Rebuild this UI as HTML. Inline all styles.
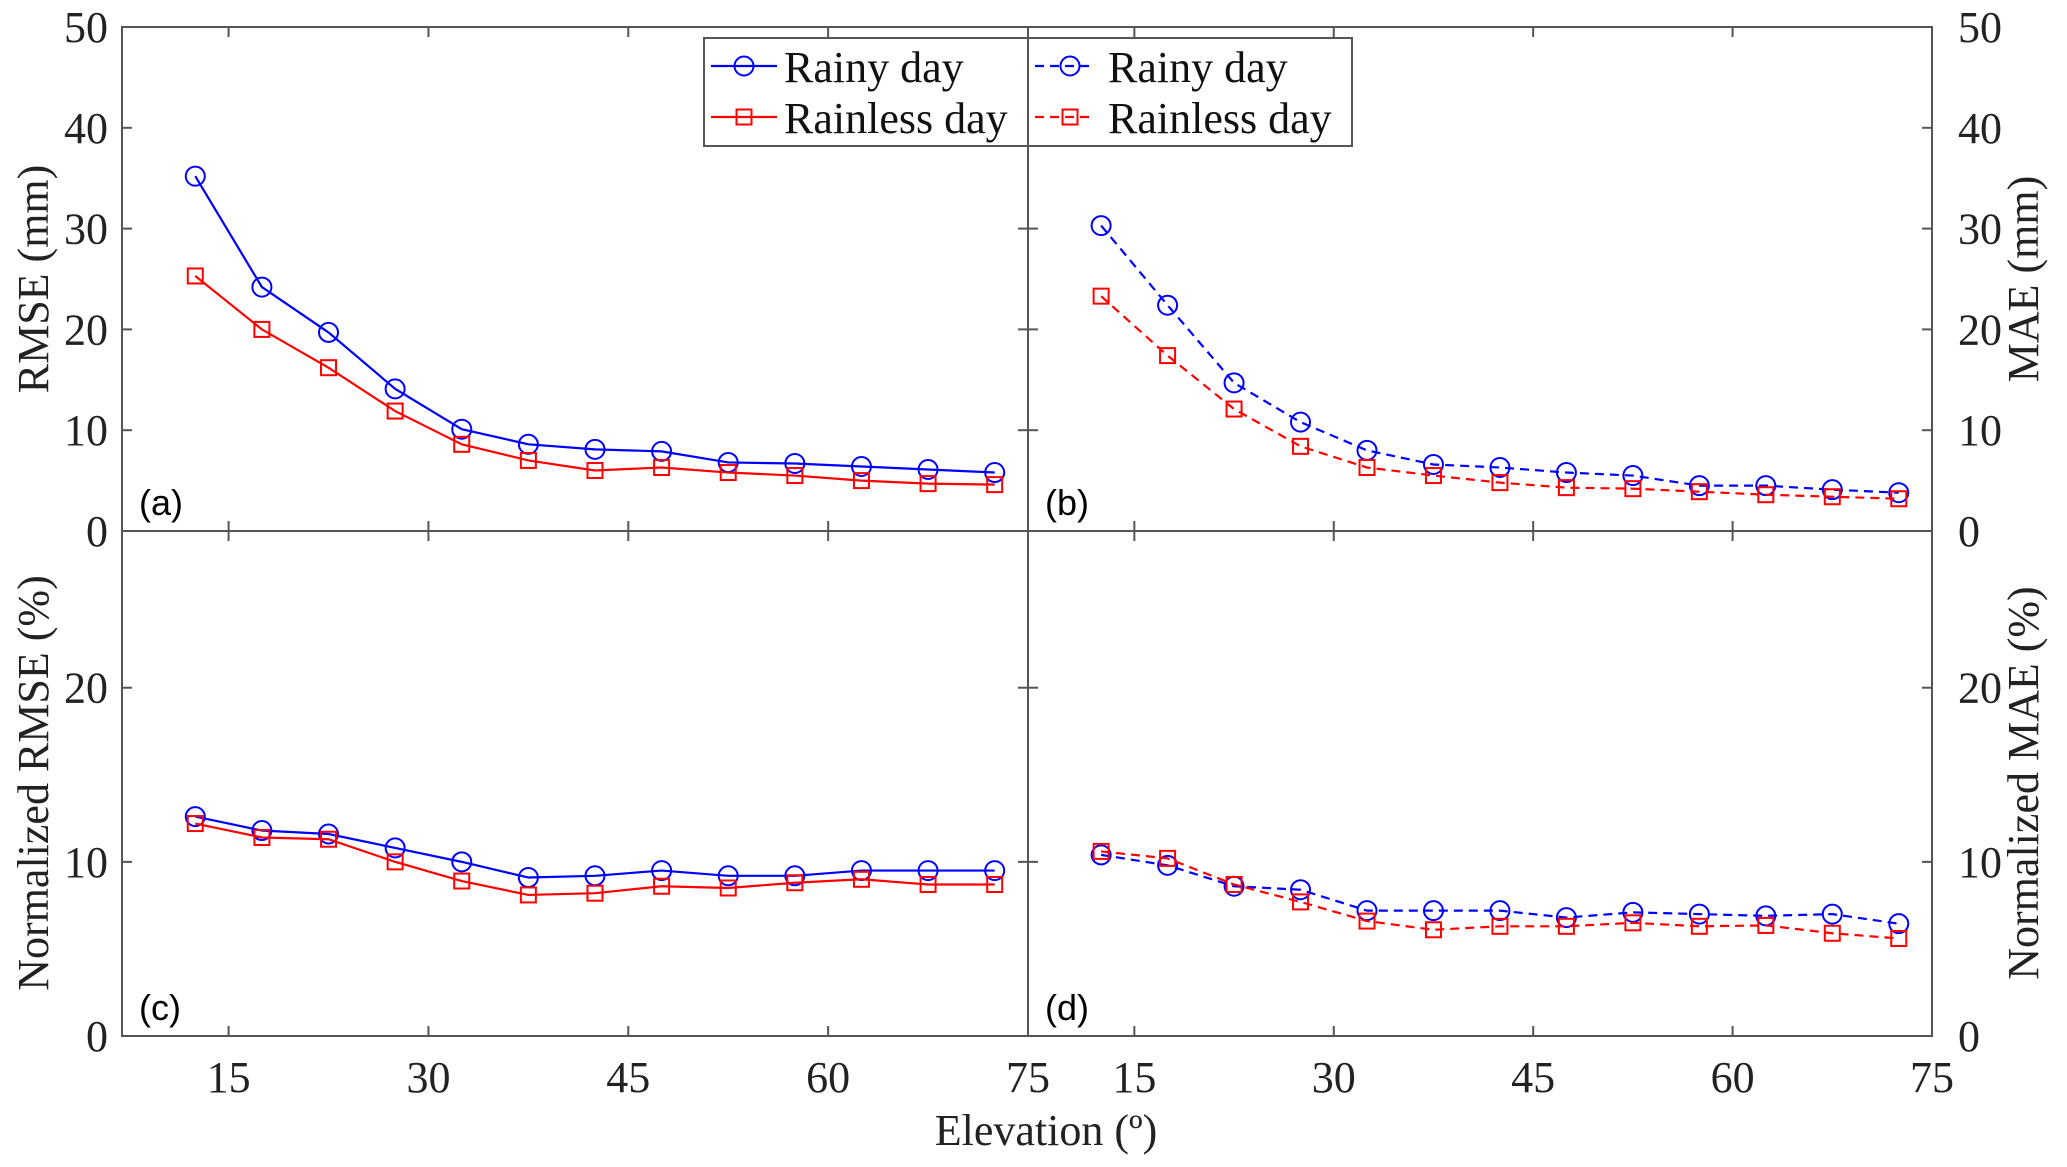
<!DOCTYPE html>
<html><head><meta charset="utf-8"><style>
html,body{margin:0;padding:0;background:#fff;}
svg{display:block;font-family:"Liberation Serif",serif;}
</style></head><body>
<svg id="chart" width="2067" height="1167" viewBox="0 0 2067 1167" xmlns="http://www.w3.org/2000/svg"></svg>
<script>
const elevations = [12.5,17.5,22.5,27.5,32.5,37.5,42.5,47.5,52.5,57.5,62.5,67.5,72.5];
const rmseRainy = [35.2,24.2,19.7,14.1,10.1,8.6,8.1,7.9,6.8,6.7,6.4,6.1,5.8];
const rmseRainless = [25.3,20.0,16.2,11.9,8.6,7.0,6.0,6.3,5.8,5.5,5.0,4.7,4.6];
const maeRainy = [30.3,22.4,14.7,10.8,8.0,6.6,6.3,5.8,5.5,4.5,4.5,4.1,3.8];
const maeRainless = [23.3,17.4,12.1,8.4,6.3,5.5,4.8,4.3,4.2,3.9,3.6,3.4,3.2];
const nrmseRainy = [12.6,11.8,11.6,10.8,10.0,9.1,9.2,9.5,9.2,9.2,9.5,9.5,9.5];
const nrmseRainless = [12.2,11.4,11.3,10.0,8.9,8.1,8.2,8.6,8.5,8.8,9.0,8.7,8.7];
const nmaeRainy = [10.4,9.8,8.6,8.4,7.2,7.2,7.2,6.8,7.1,7.0,6.9,7.0,6.45];
const nmaeRainless = [10.6,10.2,8.7,7.7,6.6,6.1,6.3,6.3,6.5,6.3,6.35,5.9,5.6];
const xTicks = [15,30,45,60,75];
const yTicksTop = [0,10,20,30,40,50];
const yTicksBottom = [0,10,20];

const NS = "http://www.w3.org/2000/svg";
const svg = document.getElementById('chart');
function mk(tag, attrs, parent){
  const e = document.createElementNS(NS, tag);
  for (const k in attrs) e.setAttribute(k, attrs[k]);
  (parent||svg).appendChild(e);
  return e;
}
const XL=[122,1028], XR=[1028,1932];
const YT=[27,531], YB=[531,1036];
function xs(range){ return v => range[0] + (v-7)/(75-7)*(range[1]-range[0]); }
function ys(range,max){ return v => range[1] - v/max*(range[1]-range[0]); }

function panel(name, xr, yr, ymax, yticks, side, s1, s2, dashed, label){
  const g = mk('g', {});
  
  
  const X = xs(xr), Y = ys(yr, ymax);
  const ax = mk('rect', {x:xr[0], y:yr[0], width:xr[1]-xr[0], height:yr[1]-yr[0], fill:'none', stroke:'#555', 'stroke-width':2}, g);
  
  
  xTicks.forEach(t=>{
    const x = X(t);
    mk('line',{x1:x,x2:x,y1:yr[1],y2:yr[1]-10,stroke:'#555','stroke-width':2},g);
    mk('line',{x1:x,x2:x,y1:yr[0],y2:yr[0]+10,stroke:'#555','stroke-width':2},g);
  });
  yticks.forEach(t=>{
    const y = Y(t);
    mk('line',{x1:xr[0],x2:xr[0]+10,y1:y,y2:y,stroke:'#555','stroke-width':2},g);
    mk('line',{x1:xr[1],x2:xr[1]-10,y1:y,y2:y,stroke:'#555','stroke-width':2},g);
    const tx = mk('text',{x: side==='left'? xr[0]-14 : xr[1]+26, y:y+15, 'font-size':44, fill:'#222', 'text-anchor': side==='left'?'end':'start'}, g);
    tx.textContent = t;
    
    
  });
  const lab = mk('text',{x:xr[0]+17, y:yr[1]-16, 'font-size':36, 'font-family':'"Liberation Sans",sans-serif', fill:'#000'}, g);
  lab.textContent = label;
  
  
  [[s1,'#0000ff','circle','rainy'],[s2,'#ff0000','square','rainless']].forEach(([vals,col,mkr,nm])=>{
    const pts = vals.map((v,i)=>X(elevations[i])+','+Y(v)).join(' ');
    const pl = mk('polyline',{points:pts, fill:'none', stroke:col, 'stroke-width':2.2, 'stroke-dasharray': dashed?'9 6':'none'}, g);
    
    
    vals.forEach((v,i)=>{
      const cx = X(elevations[i]), cy = Y(v);
      let m;
      if (mkr==='circle') m = mk('ellipse',{cx:cx,cy:cy,rx:9.5,ry:9.5,fill:'none',stroke:col,'stroke-width':2},g);
      else m = mk('rect',{x:cx-7.5,y:cy-7.5,width:15,height:15,fill:'none',stroke:col,'stroke-width':2},g);
      
      
    });
  });
  return X;
}
const XA = panel('panel-a-rmse', XL, YT, 50, yTicksTop, 'left', rmseRainy, rmseRainless, false, '(a)');
panel('panel-b-mae', XR, YT, 50, yTicksTop, 'right', maeRainy, maeRainless, true, '(b)');
const XC = panel('panel-c-normalized-rmse', XL, YB, 29, yTicksBottom, 'left', nrmseRainy, nrmseRainless, false, '(c)');
const XD = panel('panel-d-normalized-mae', XR, YB, 29, yTicksBottom, 'right', nmaeRainy, nmaeRainless, true, '(d)');
[XC, XD].forEach(X=>{
  xTicks.forEach(t=>{
    const tx = mk('text',{x:X(t), y:1092, 'font-size':44, fill:'#222', 'text-anchor':'middle'});
    tx.textContent = t;
    
    
  });
});
function label(txt, x, y, rot, nm){
  const t = mk('text',{x:x,y:y,'font-size':44,fill:'#222','text-anchor':'middle', transform: rot?`rotate(${rot} ${x} ${y})`:''});
  t.textContent = txt;
  
  
}
label('Elevation (º)', 1046, 1145, 0, 'x-axis-title');
label('RMSE (mm)', 48, 279, -90, 'y-axis-title-rmse');
label('Normalized RMSE (%)', 48, 783, -90, 'y-axis-title-normalized-rmse');
label('MAE (mm)', 2038, 279, -90, 'y-axis-title-mae');
label('Normalized MAE (%)', 2038, 783, -90, 'y-axis-title-normalized-mae');

// legend
const lg = mk('g',{});


mk('rect',{x:704,y:38,width:648,height:108,fill:'#fff',stroke:'#555','stroke-width':2},lg);
mk('line',{x1:1028,x2:1028,y1:38,y2:146,stroke:'#555','stroke-width':2},lg);
const entries = [
  [711,777,744,784,66,'#0000ff','circle',false,'Rainy day'],
  [711,777,744,784,117,'#ff0000','square',false,'Rainless day'],
  [1035,1095,1070,1108,66,'#0000ff','circle',true,'Rainy day'],
  [1035,1095,1070,1108,117,'#ff0000','square',true,'Rainless day']
];
entries.forEach(([x1,x2,mx,tx,y,col,mkr,dash,txt])=>{
  const eg = mk('g',{},lg);
  
  
  mk('line',{x1:x1,x2:x2,y1:y,y2:y,stroke:col,'stroke-width':2.2,'stroke-dasharray':dash?'9 6':'none'},eg);
  if (mkr==='circle') mk('circle',{cx:mx,cy:y,r:9.5,fill:'none',stroke:col,'stroke-width':2},eg);
  else mk('rect',{x:mx-7.5,y:y-7.5,width:15,height:15,fill:'none',stroke:col,'stroke-width':2},eg);
  const t = mk('text',{x:tx,y:y+16,'font-size':44,fill:'#111'},eg);
  t.textContent = txt;
});
</script>
</body></html>
